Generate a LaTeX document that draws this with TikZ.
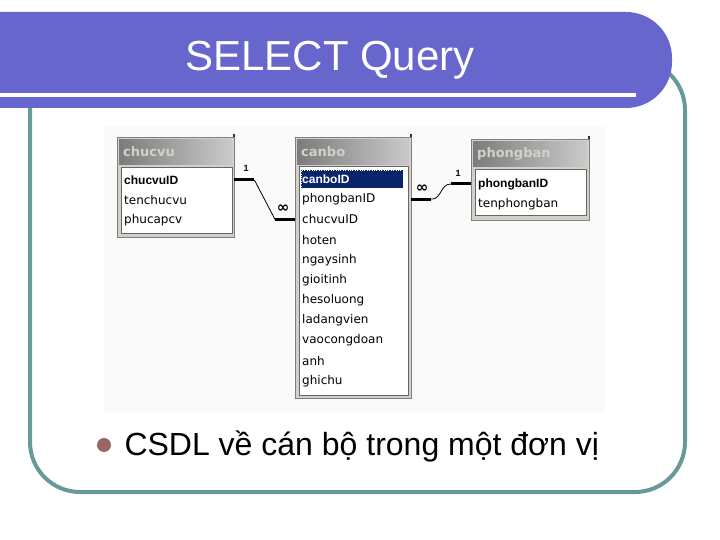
\documentclass[tikz,border=0pt]{standalone}
\usepackage{fontspec}
\setmainfont{Liberation Sans}
\newfontfamily\winfont{DejaVu Sans}
\definecolor{titlebar}{HTML}{6666CC}
\definecolor{framegreen}{HTML}{669999}
\definecolor{bulletred}{HTML}{996666}
\definecolor{panelgrey}{HTML}{D4D0C8}
\definecolor{headdark}{HTML}{7C7C7C}
\definecolor{headlight}{HTML}{CACACA}
\definecolor{selblue}{HTML}{0A246A}
\definecolor{shotbg}{HTML}{FAFAFA}
\tikzset{
  panel/.style={draw=gray, fill=panelgrey, anchor=north west, inner sep=0pt},
  head/.style={left color=headdark, right color=headlight, anchor=north west, inner sep=0pt,
    minimum height=25pt, text=panelgrey, font=\winfont\bfseries\fontsize{13}{15}\selectfont},
  listbox/.style={fill=white, draw=gray!80!black, anchor=north west, inner sep=0pt},
  field/.style={anchor=west, inner sep=1pt, font=\winfont\fontsize{12}{13}\selectfont},
  keyfield/.style={field, font=\bfseries\fontsize{12}{13}\selectfont},
  rightedge/.style={line width=1.5pt, color=black!80},
  rel/.style={line width=3pt},
  reltrace/.style={line width=0.8pt},
  card/.style={inner sep=0pt, font=\bfseries\fontsize{9}{9}\selectfont},
  many/.style={card, font=\winfont\bfseries\fontsize{15}{15}\selectfont}
}

\begin{document}
\begin{tikzpicture}[x=1pt,y=-1pt]
	\useasboundingbox (0,0) rectangle (720,540);
	\clip (0,0) rectangle (720,540);

	% slide frame and title bar
	\draw [line width=4pt,color=framegreen,rounded corners=50pt] (30,60) rectangle (685,492);
	\fill [titlebar,rounded corners=46pt] (-60,12) rectangle (672,108);
	\fill [white] (0,93) rectangle (636,97);
	\node [anchor=base,text=white,font=\fontsize{42}{50}\selectfont] (title) at (330,71) {SELECT Query};

	% screenshot of the relationships
	\fill [shotbg] (104,126) rectangle (605,412);

	% chucvu
	\draw [rightedge] (234,134) -- (234,237);
	\node [panel,minimum width=117pt,minimum height=100pt] (chucvu) at (117,137) {};
	\node [head,minimum width=113pt,text width=105pt] (chucvu-head) at (119,139) {chucvu};
	\node [listbox,minimum width=111pt,minimum height=66pt] (chucvu-list) at (121,167) {};
	\node [keyfield] (cv1) at (123,180) {chucvuID};
	\foreach \t [count=\i from 2] in {tenchucvu,phucapcv}
		\node [field] (cv\i) at (123,{160+20*\i}) {\t};

	% canbo
	\draw [rightedge] (411,134) -- (411,398);
	\node [panel,minimum width=116pt,minimum height=261pt] (canbo) at (295,137) {};
	\node [head,minimum width=112pt,text width=104pt] (canbo-head) at (297,139) {canbo};
	\node [listbox,minimum width=109pt,minimum height=229pt] (canbo-list) at (299,166) {};
	\node [keyfield,fill=selblue,text=white,draw=white,dotted,text width=100pt,minimum height=18pt] (cb1) at (301,179) {canboID};
	\foreach \t [count=\i from 2] in {phongbanID,chucvuID,hoten,ngaysinh,gioitinh,hesoluong,ladangvien,vaocongdoan,anh,ghichu}
		\node [field] (cb\i) at (301,{179+20.2*(\i-1)}) {\t};

	% phongban
	\draw [rightedge] (589,136) -- (589,220);
	\node [panel,minimum width=118pt,minimum height=81pt] (phongban) at (471,139) {};
	\node [head,minimum width=114pt,text width=106pt] (phongban-head) at (473,141) {phongban};
	\node [listbox,minimum width=111pt,minimum height=46pt] (phongban-list) at (475,169) {};
	\node [keyfield] (pb1) at (477,184) {phongbanID};
	\node [field] (pb2) at (477,204) {tenphongban};

	% joins
	\draw [rel] (chucvu.east |- cv1) -- ++(20,0) coordinate (cv-out);
	\draw [rel] (canbo.west |- cb3) -- ++(-20,0) coordinate (cb-in);
	\draw [reltrace] (cv-out) -- (cb-in);
	\node [card] (one-cv) at (246,168) {1};
	\node [many] (many-cv) at (283,209) {∞};

	\draw [rel] (canbo.east |- cb2) -- ++(20,0) coordinate (cb-out);
	\draw [rel] (phongban.west |- pb1) -- ++(-20,0) coordinate (pb-in);
	\draw [reltrace] (cb-out) .. controls (442,199) and (440,184) .. (pb-in);
	\node [many] (many-pb) at (422,189) {∞};
	\node [card] (one-pb) at (458,173) {1};

	% bullet line
	\node [circle,fill=bulletred,minimum size=14pt,inner sep=0pt] (dot) at (104,445) {};
	\node [anchor=base west,font=\fontsize{32}{38}\selectfont] (csdl) at (121,455) {CSDL về cán bộ trong một đơn vị};
\end{tikzpicture}
\end{document}
